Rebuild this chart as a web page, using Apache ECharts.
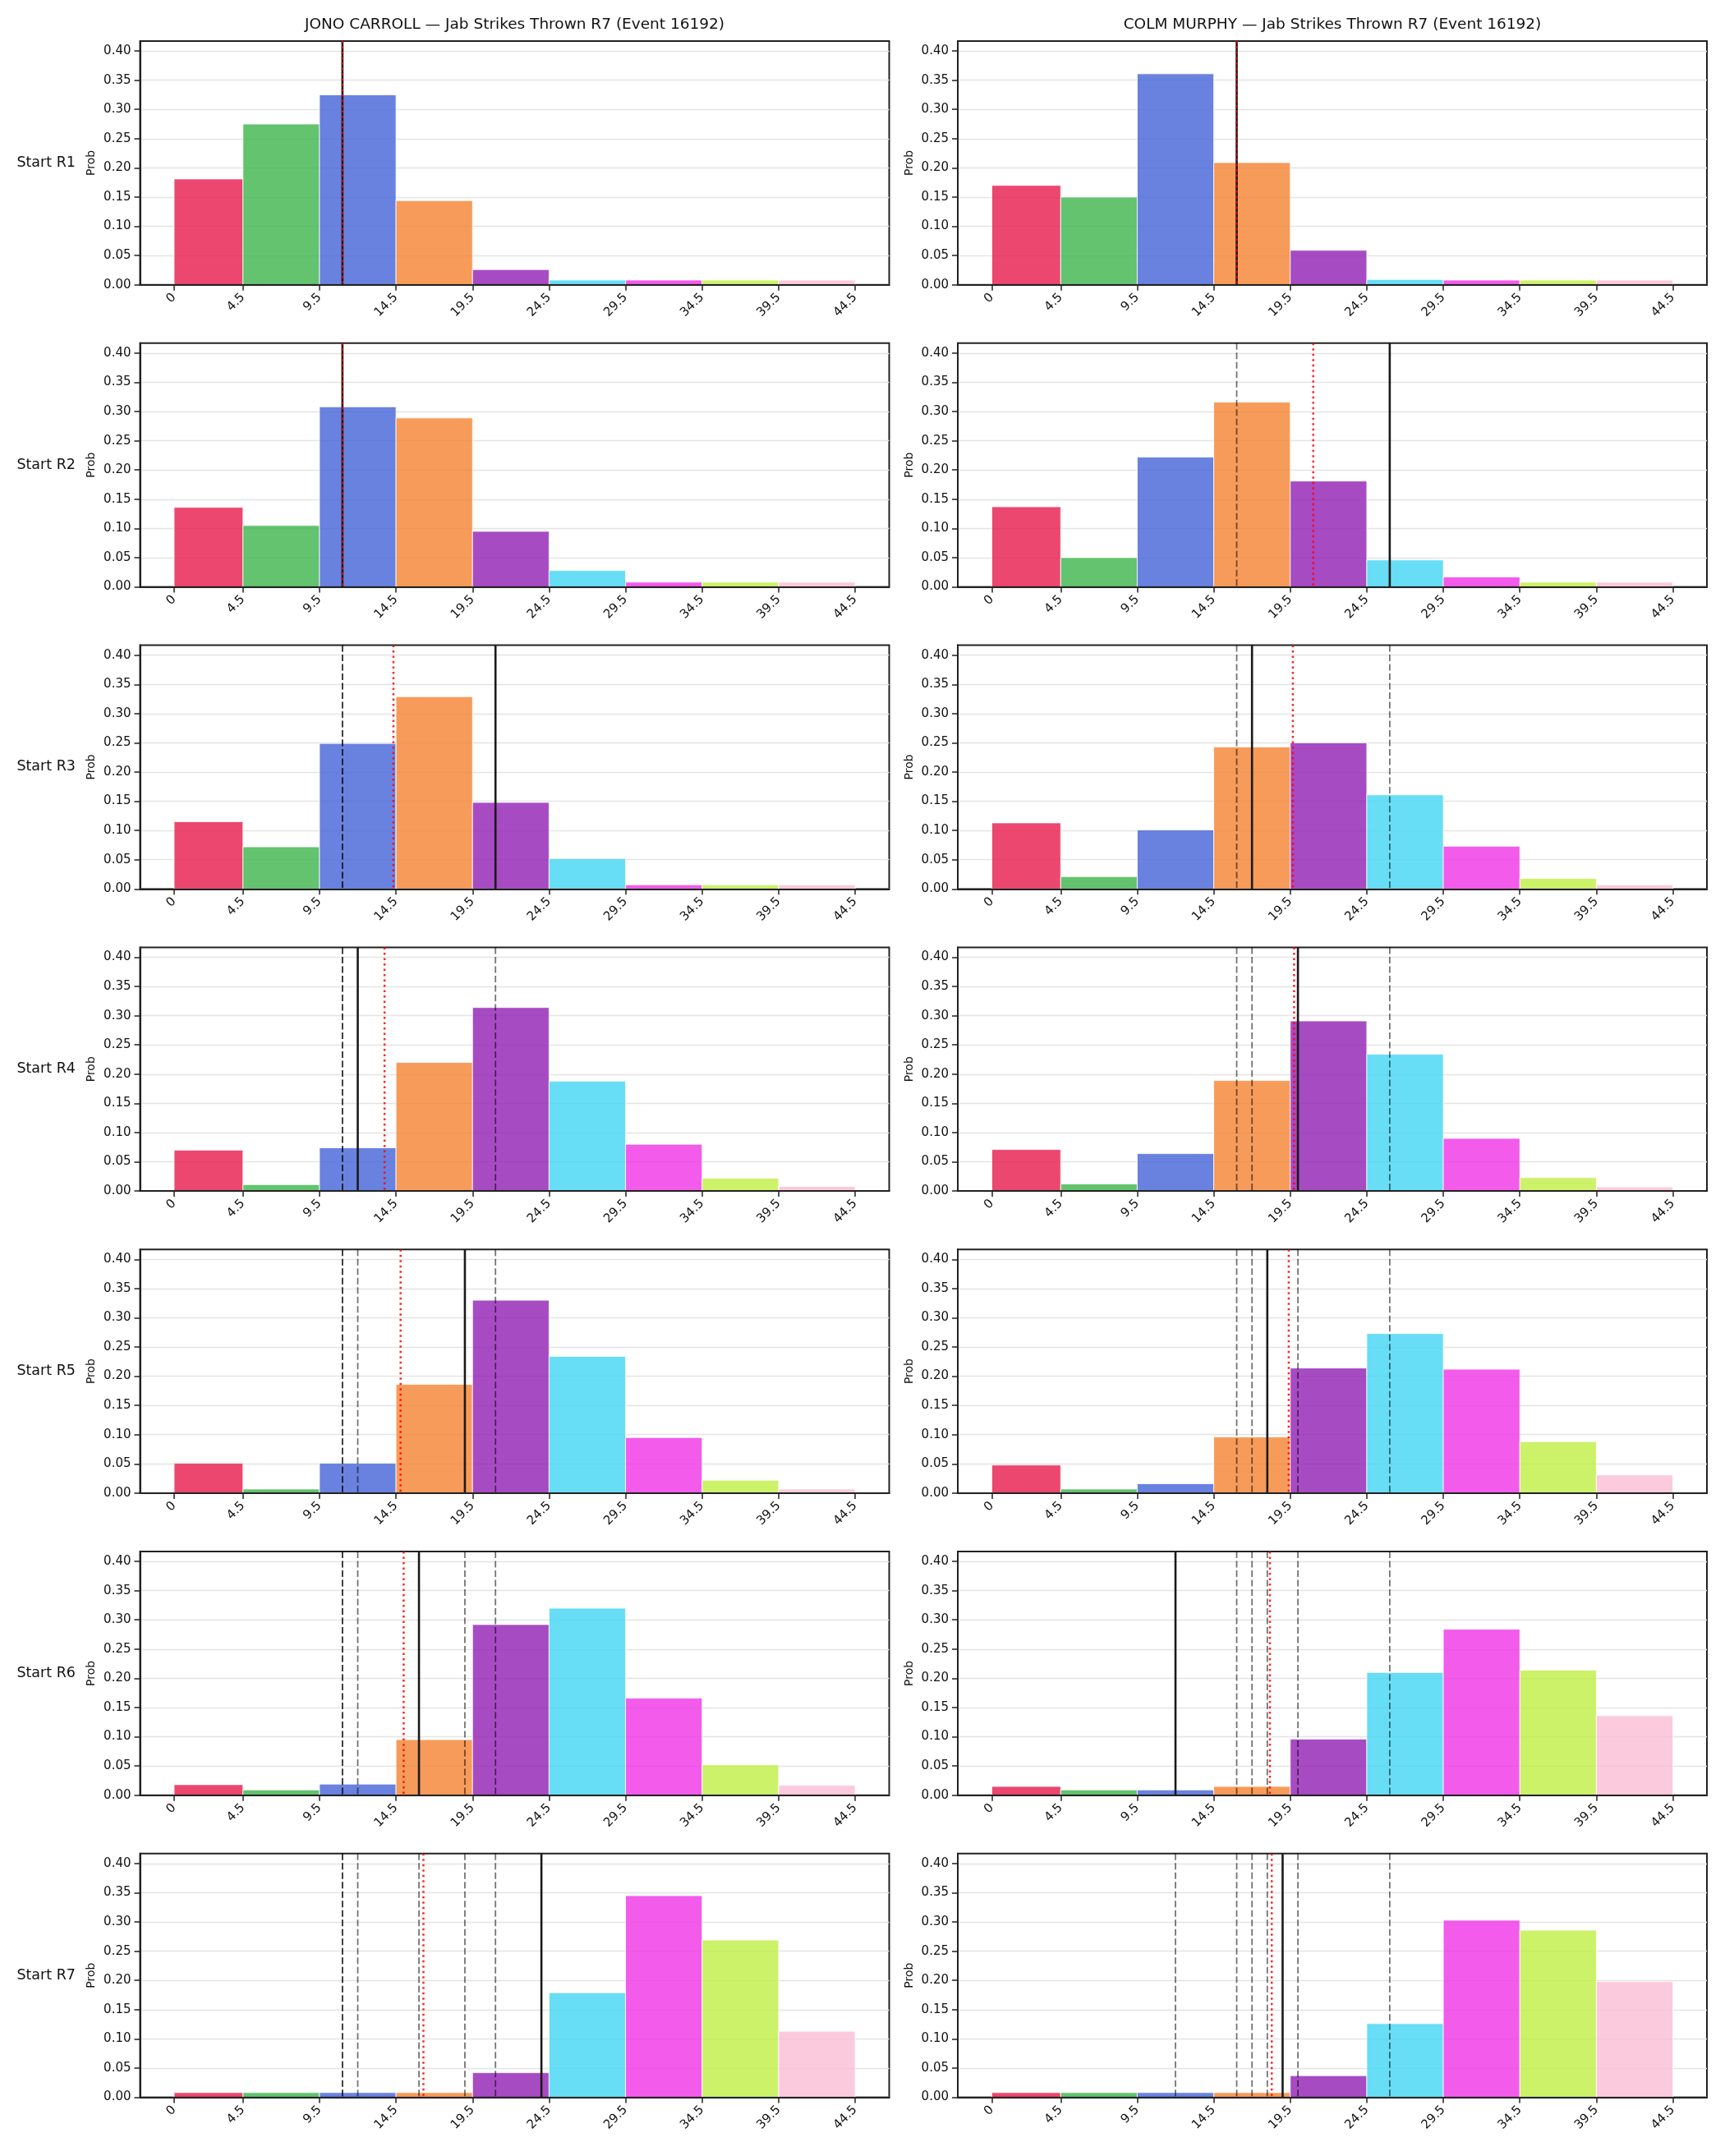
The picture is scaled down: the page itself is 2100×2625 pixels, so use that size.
<!DOCTYPE html>
<html>
<head>
<meta charset="utf-8">
<script src="https://cdn.jsdelivr.net/npm/echarts@6/dist/echarts.min.js"></script>
<style>
  html, body { margin: 0; padding: 0; background: #fff; }
  #chart { width: 2100px; height: 2625px; }
</style>
</head>
<body>
<div id="chart"></div>
<script>
// bin edges on the x axis (first bin is 0-4.5, then 5 wide)
const binEdges = [0, 4.5, 9.5, 14.5, 19.5, 24.5, 29.5, 34.5, 39.5, 44.5];
const binColors = ['#e6194b', '#3cb44b', '#4363d8', '#f58231', '#911eb4',
                   '#42d4f4', '#f032e6', '#bfef45', '#fabed4'];
const yTicks = [0, 0.05, 0.10, 0.15, 0.20, 0.25, 0.30, 0.35, 0.40];
const rowLabels = ['Start R1', 'Start R2', 'Start R3', 'Start R4', 'Start R5', 'Start R6', 'Start R7'];
const fighters = ['JONO CARROLL', 'COLM MURPHY'];

// probability per bin, one row per "Start Rk"
const jonoProbs = [
  [0.181, 0.275, 0.325, 0.144, 0.026, 0.008, 0.008, 0.008, 0.008],
  [0.136, 0.105, 0.308, 0.289, 0.095, 0.028, 0.008, 0.008, 0.008],
  [0.115, 0.072, 0.249, 0.329, 0.148, 0.052, 0.007, 0.007, 0.007],
  [0.070, 0.011, 0.074, 0.220, 0.314, 0.188, 0.080, 0.022, 0.008],
  [0.051, 0.007, 0.051, 0.186, 0.330, 0.234, 0.095, 0.022, 0.007],
  [0.018, 0.009, 0.019, 0.095, 0.292, 0.320, 0.166, 0.052, 0.017],
  [0.008, 0.008, 0.008, 0.008, 0.042, 0.179, 0.345, 0.269, 0.113]
];
const colmProbs = [
  [0.170, 0.150, 0.361, 0.209, 0.059, 0.009, 0.008, 0.008, 0.008],
  [0.137, 0.050, 0.222, 0.316, 0.181, 0.046, 0.017, 0.008, 0.008],
  [0.113, 0.021, 0.101, 0.243, 0.250, 0.161, 0.073, 0.018, 0.007],
  [0.071, 0.012, 0.064, 0.189, 0.291, 0.234, 0.090, 0.023, 0.007],
  [0.048, 0.007, 0.016, 0.096, 0.214, 0.273, 0.212, 0.088, 0.031],
  [0.015, 0.009, 0.009, 0.015, 0.096, 0.210, 0.284, 0.214, 0.136],
  [0.008, 0.008, 0.008, 0.008, 0.037, 0.126, 0.303, 0.286, 0.198]
];

// jab strikes actually thrown in each round, and the running mean line
const jonoActual = [11, 11, 21, 12, 19, 16, 24];
const jonoMean = [11, 11, 14.33, 13.75, 14.8, 15.0, 16.29];
const colmActual = [16, 26, 17, 20, 18, 12, 19];
const colmMean = [16, 21, 19.67, 19.75, 19.4, 18.17, 18.29];

const Y_MAX = 0.417;
const X_MIN = -2.225, X_MAX = 46.725;
const FONT = 'DejaVu Sans';

const colLeft = [170.5, 1166];
const gridW = 912, gridH = 296.7, rowTop = 50, rowStep = 367.8;

const chart = echarts.init(document.getElementById('chart'), null, { renderer: 'canvas' });

const grids = [], xAxes = [], yAxes = [], series = [], graphics = [];

function barRender(params, api) {
  const x0 = api.value(0), x1 = api.value(1), y = api.value(2);
  const ci = api.value(3);
  const p0 = api.coord([x0, 0]);
  const p1 = api.coord([x1, y]);
  return {
    type: 'rect',
    shape: { x: p0[0], y: p1[1], width: p1[0] - p0[0], height: p0[1] - p1[1] },
    style: { fill: binColors[ci], stroke: '#ffffff', lineWidth: 1, opacity: 0.8 }
  };
}

const lineStyles = {
  prev: { stroke: 'rgba(0,0,0,0.55)', lineWidth: 1.8, lineDash: [8, 3.5] },
  now: { stroke: '#1a1a1a', lineWidth: 2.6 },
  mean: { stroke: 'rgba(255,0,0,0.85)', lineWidth: 2.5, lineDash: [2.5, 4] }
};
const kinds = ['prev', 'now', 'mean'];

function lineRender(params, api) {
  const x = api.value(0);
  const kind = kinds[api.value(1)];
  const top = api.coord([x, Y_MAX]);
  const bot = api.coord([x, 0]);
  return {
    type: 'line',
    shape: { x1: top[0], y1: top[1], x2: bot[0], y2: bot[1] },
    style: Object.assign({ fill: null }, lineStyles[kind])
  };
}

let k = 0;
for (let r = 0; r < 7; r++) {
  for (let c = 0; c < 2; c++) {
    const probs = c === 0 ? jonoProbs[r] : colmProbs[r];
    const actual = c === 0 ? jonoActual : colmActual;
    const mean = c === 0 ? jonoMean : colmMean;
    const top = rowTop + r * rowStep;

    grids.push({
      left: colLeft[c], top: top, width: gridW, height: gridH,
      show: true, borderColor: '#222', borderWidth: 2,
      containLabel: false, outerBoundsMode: 'none'
    });
    xAxes.push({
      type: 'value', gridIndex: k, min: X_MIN, max: X_MAX, z: 5,
      axisLine: { show: true, onZero: false, lineStyle: { color: '#222', width: 2 } },
      axisTick: { show: true, length: 7, customValues: binEdges, lineStyle: { color: '#222', width: 1.5 } },
      axisLabel: {
        customValues: binEdges, rotate: 45, margin: 13,
        fontFamily: FONT, fontSize: 15, color: '#111',
        formatter: v => String(v)
      },
      splitLine: { show: false }
    });
    yAxes.push({
      type: 'value', gridIndex: k, min: 0, max: Y_MAX,
      name: 'Prob', nameLocation: 'middle', nameGap: 52,
      nameTextStyle: { fontFamily: FONT, fontSize: 14, color: '#111' },
      axisLine: { show: true, onZero: false, lineStyle: { color: '#222', width: 2 } },
      axisTick: { show: true, length: 7, customValues: yTicks, lineStyle: { color: '#222', width: 1.5 } },
      axisLabel: {
        customValues: yTicks, margin: 11,
        fontFamily: FONT, fontSize: 15, color: '#111',
        formatter: v => v.toFixed(2)
      },
      splitLine: { show: true, lineStyle: { color: '#e4e4e4', width: 1.3 } }
    });

    const barData = probs.map((p, i) => [binEdges[i], binEdges[i + 1], p, i]);
    series.push({
      type: 'custom', xAxisIndex: k, yAxisIndex: k,
      renderItem: barRender, data: barData,
      encode: { x: [0, 1], y: 2 }, silent: true, z: 2
    });

    const lines = [];
    for (let j = 0; j < r; j++) lines.push([actual[j], 0]);
    lines.push([actual[r], 1]);
    lines.push([mean[r], 2]);
    series.push({
      type: 'custom', xAxisIndex: k, yAxisIndex: k,
      renderItem: lineRender, data: lines,
      encode: { x: 0 }, silent: true, z: 3
    });

    if (c === 0) {
      graphics.push({
        type: 'text', x: 92, y: top + gridH / 2,
        style: { text: rowLabels[r], fontFamily: FONT, fontSize: 17.5, fill: '#111',
                 textAlign: 'right', textVerticalAlign: 'middle' }
      });
    }
    k++;
  }
}

for (let c = 0; c < 2; c++) {
  graphics.push({
    type: 'text', x: colLeft[c] + gridW / 2, y: 30,
    style: { text: fighters[c] + ' \u2014 Jab Strikes Thrown R7 (Event 16192)',
             fontFamily: FONT, fontSize: 18.5, fill: '#111',
             textAlign: 'center', textVerticalAlign: 'middle' }
  });
}

chart.setOption({
  backgroundColor: '#ffffff',
  animation: false,
  grid: grids,
  xAxis: xAxes,
  yAxis: yAxes,
  series: series,
  graphic: graphics
});
</script>
</body>
</html>
